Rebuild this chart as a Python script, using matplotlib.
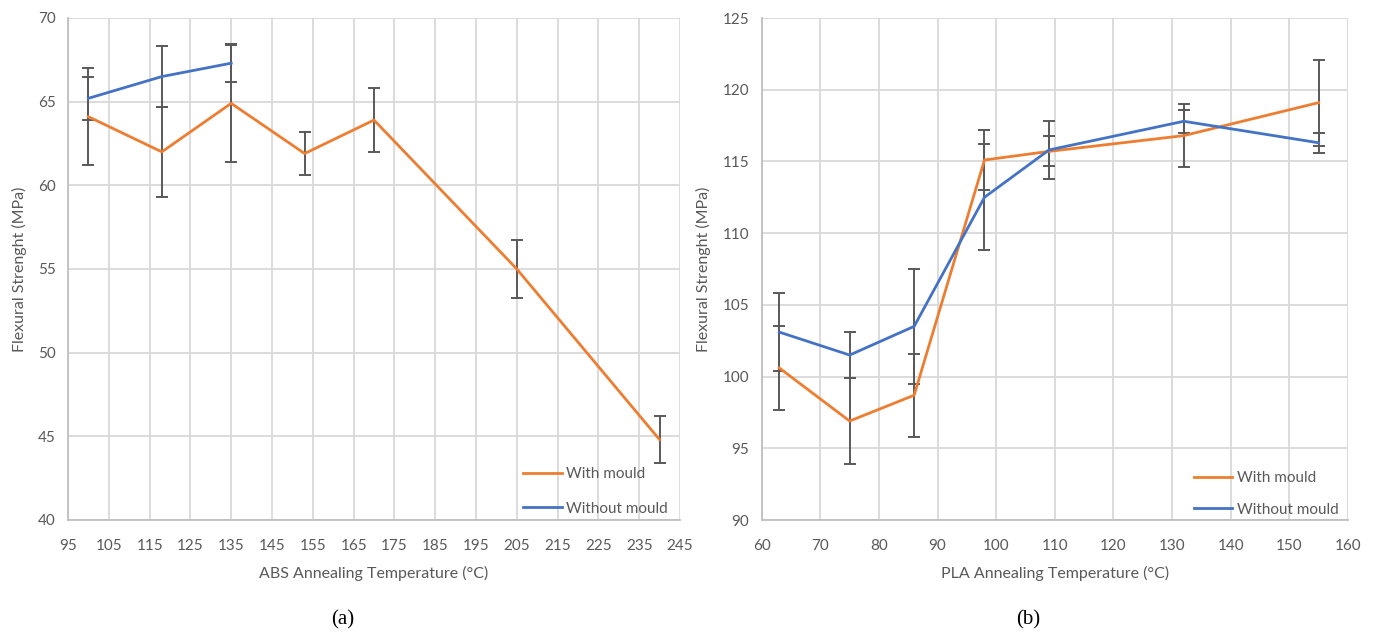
import matplotlib
matplotlib.use("Agg")
import matplotlib.pyplot as plt

# ---- Data (a) ABS ----
abs_with_x = [100, 118, 135, 153, 170, 205, 240]
abs_with_y = [64.1, 62.0, 64.9, 61.9, 63.9, 55.0, 44.8]
abs_with_err = [2.9, 2.7, 3.5, 1.3, 1.9, 1.75, 1.4]
abs_without_x = [100, 118, 135]
abs_without_y = [65.2, 66.5, 67.3]
abs_without_err = [1.3, 1.8, 1.15]

# ---- Data (b) PLA ----
pla_with_x = [63, 75, 86, 98, 109, 132, 155]
pla_with_y = [100.6, 96.9, 98.7, 115.1, 115.7, 116.8, 119.1]
pla_with_err = [2.9, 3.0, 2.9, 2.1, 1.05, 2.2, 3.0]
pla_without_x = [63, 75, 86, 98, 109, 132, 155]
pla_without_y = [103.1, 101.5, 103.5, 112.5, 115.8, 117.8, 116.3]
pla_without_err = [2.7, 1.6, 4.0, 3.7, 2.0, 0.8, 0.7]

abs_xticks = list(range(95, 246, 10))
abs_yticks = list(range(40, 71, 5))
pla_xticks = list(range(60, 161, 10))
pla_yticks = list(range(90, 126, 5))

ORANGE = "#ED7D31"
BLUE = "#4472C4"
ERR = "#595959"
GRID = "#D9D9D9"
TXT = "#595959"
FONT = "Lato"

W, H = 1378, 634
fig = plt.figure(figsize=(W / 100, H / 100), dpi=100)
fig.patch.set_facecolor("white")

def make_ax(rect, xlim, ylim, xticks, yticks, xlabel, caption, capx,
            wx, wy, we, nx, ny, ne, leg_anchor, leg_spacing):
    ax = fig.add_axes(rect)
    ax.set_xlim(*xlim)
    ax.set_ylim(*ylim)
    ax.set_xticks(xticks)
    ax.set_yticks(yticks)
    ax.grid(True, color=GRID, linewidth=1.3)
    ax.set_axisbelow(True)
    for s in ["top", "right"]:
        ax.spines[s].set_visible(False)
    for s in ["left", "bottom"]:
        ax.spines[s].set_color("#BFBFBF")
        ax.spines[s].set_linewidth(1.3)
    ax.tick_params(length=0, labelsize=11, labelcolor=TXT, pad=9)
    for lab in ax.get_xticklabels() + ax.get_yticklabels():
        lab.set_fontfamily(FONT)
    ax.tick_params(axis="x", pad=14)
    ax.set_xlabel(xlabel, fontsize=11.5, color=TXT, family=FONT, labelpad=9)
    ax.set_ylabel("Flexural Strenght (MPa)", fontsize=11.5, color=TXT,
                  family=FONT, labelpad=8)
    ax.errorbar(wx, wy, yerr=we, fmt="none", ecolor=ERR, elinewidth=1.4,
                capsize=4, capthick=1.4, zorder=2)
    ax.errorbar(nx, ny, yerr=ne, fmt="none", ecolor=ERR, elinewidth=1.4,
                capsize=4, capthick=1.4, zorder=2)
    ax.plot(wx, wy, color=ORANGE, linewidth=2.0, label="With mould", zorder=3)
    ax.plot(nx, ny, color=BLUE, linewidth=2.0, label="Without mould", zorder=3)
    leg = ax.legend(loc="lower right", bbox_to_anchor=leg_anchor, frameon=False,
                    prop={"family": FONT, "size": 11}, labelspacing=leg_spacing,
                    handlelength=2.55, handletextpad=0.3, borderaxespad=0.2)
    for t in leg.get_texts():
        t.set_color(TXT)
    fig.text(capx, 1 - 620 / H, caption, ha="center", va="center",
             fontsize=15, family="Liberation Serif", color="black")
    return ax

make_ax([68 / W, 114 / H, 612 / W, 502 / H], (95, 245), (40, 70),
        abs_xticks, abs_yticks, "ABS Annealing Temperature (°C)", "(a)", 343 / W,
        abs_with_x, abs_with_y, abs_with_err,
        abs_without_x, abs_without_y, abs_without_err,
        (1.0 - 3 / 612, -5 / 502), 1.37)

make_ax([761.7 / W, 114 / H, 586.3 / W, 502 / H], (60, 160), (90, 125),
        pla_xticks, pla_yticks, "PLA Annealing Temperature (°C)", "(b)", 1028 / W,
        pla_with_x, pla_with_y, pla_with_err,
        pla_without_x, pla_without_y, pla_without_err,
        (1.0, -6 / 502), 1.17)

fig.savefig("out.png", dpi=100, facecolor="white")
